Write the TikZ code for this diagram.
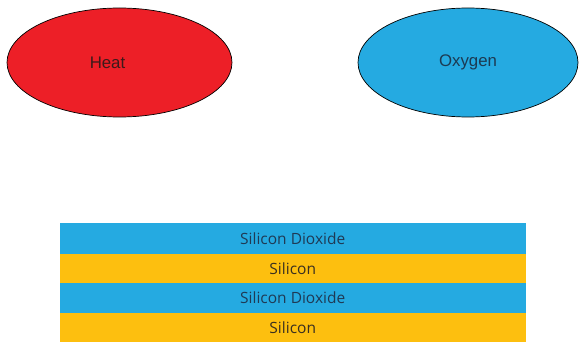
\documentclass[tikz,border=0pt]{standalone}
\usepackage{fontspec}
\setmainfont{Liberation Sans}
\newfontfamily\barfont{Open Sans}
\usetikzlibrary{shapes.geometric}
\definecolor{heatred}{HTML}{ED1F27}
\definecolor{oxblue}{HTML}{25AAE1}
\definecolor{siyellow}{HTML}{FDBF0F}
\definecolor{heattext}{HTML}{3D1A1A}
\definecolor{oxtext}{HTML}{1C3A52}
\definecolor{bartextb}{HTML}{1F3A55}
\definecolor{bartexty}{HTML}{3A3020}
\tikzset{
  blob/.style={ellipse, draw=black, line width=0.7pt, inner sep=0pt},
  blobtext/.style={inner sep=0pt, font=\fontsize{16.8}{18}\selectfont},
  layer/.style={rectangle, inner sep=0pt, minimum width=466.5pt,
    font=\barfont\fontsize{15.5}{17}\selectfont},
  oxide/.style={layer, fill=oxblue, text=bartextb},
  silicon/.style={layer, fill=siyellow, text=bartexty}
}
\begin{document}
\begin{tikzpicture}[x=1pt,y=-1pt]
\useasboundingbox (0,0) rectangle (579,342);
\node[blob, fill=heatred, minimum width=225pt, minimum height=109pt] (heat) at (119.5,62.5) {};
\node[blobtext, text=heattext] (heatlabel) at ([xshift=-12pt]heat.center) {Heat};
\node[blob, fill=oxblue, minimum width=220pt, minimum height=109pt] (oxygen) at (468,62.5) {};
\node[blobtext, text=oxtext] (oxlabel) at (oxygen.center) {Oxygen};
\node[oxide, minimum height=30.5pt] (sio2a) at (292.75,238.75) {Silicon Dioxide};
\node[silicon, minimum height=29pt] (sia) at (292.75,268.5) {Silicon};
\node[oxide, minimum height=29.5pt] (sio2b) at (292.75,297.75) {Silicon Dioxide};
\node[silicon, minimum height=29.5pt] (sib) at (292.75,327.25) {Silicon};
\end{tikzpicture}
\end{document}
